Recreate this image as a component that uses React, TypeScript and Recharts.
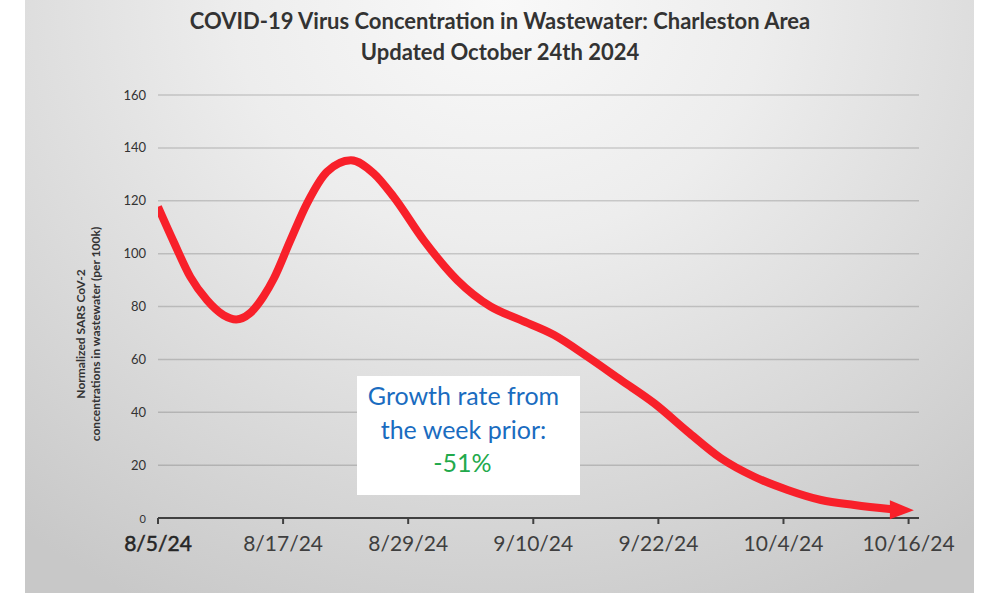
import React from "react";
import { LineChart, Line, XAxis, YAxis, CartesianGrid } from "recharts";

// Days after 8/5/24
const dayOffsets = [0, 1.5, 3.1, 4.7, 6.3, 7.5, 8.8, 10.1, 11.1, 12.7, 14.3, 16.2, 18.5, 20.7, 22.6, 25.5, 28.7, 31.9, 34.7, 38, 41.2, 44.4, 47.6, 50.8, 54, 57.2, 60.4, 63.6, 66.8, 70.4];
const concentrations = [117.7, 104.5, 91.2, 82.4, 76.7, 75.1, 77.4, 83.7, 90.5, 105, 119, 130.9, 135.3, 130.3, 121.5, 105, 90, 80, 75, 69.2, 61, 52.2, 43.4, 32.7, 22.6, 15.6, 10.6, 6.8, 4.9, 3.3];

const xTickDays = [0, 12, 24, 36, 48, 60, 72];
const xTickLabels = ["8/5/24", "8/17/24", "8/29/24", "9/10/24", "9/22/24", "10/4/24", "10/16/24"];
const yTicks = [0, 20, 40, 60, 80, 100, 120, 140, 160];

const titleLines = ["COVID-19 Virus Concentration in Wastewater: Charleston Area", "Updated October 24th 2024"];
const yLabelLines = ["Normalized SARS CoV-2", "concentrations in wastewater (per 100k)"];
const noteLines = ["Growth rate from", "the week prior:"];
const noteValue = "-51%";

const data = dayOffsets.map((d, i) => ({ day: d, value: concentrations[i] }));

const FONT = "Lato, 'Open Sans', sans-serif";
const RED = "#f8202a";

const XTick = (props: any) => {
  const { x, y, payload, index } = props;
  const i = xTickDays.indexOf(payload.value);
  return (
    <text x={x} y={y + 25} textAnchor="middle" fontFamily={FONT} fontSize={21}
      fill={index === 0 ? "#262626" : "#3f3f3f"} stroke={index === 0 ? "#262626" : "none"} strokeWidth={index === 0 ? 0.5 : 0}>
      {i >= 0 ? xTickLabels[i] : ""}
    </text>
  );
};

const YTick = (props: any) => {
  const { x, y, payload } = props;
  const isZero = payload.value === 0;
  return (
    <text x={x - 4} y={y + 4.5} textAnchor="end" fontFamily={FONT} fontSize={isZero ? 11 : 13} fill="#333333">
      {payload.value}
    </text>
  );
};

const ArrowDot = (props: any) => {
  const { cx, cy, index } = props;
  if (index !== data.length - 1) return <g key={`d${index}`} />;
  return (
    <polygon key={`d${index}`} points={`${cx - 2},${cy - 9} ${cx + 22},${cy + 1} ${cx - 2},${cy + 10}`} fill={RED} />
  );
};

export default function App() {
  return (
    <div style={{ position: "absolute", left: 0, top: 0, width: 1000, height: 593, background: "#ffffff", overflow: "hidden" }}>
      <div style={{
        position: "absolute", left: 25, top: 0, width: 949, height: 593,
        background: "radial-gradient(ellipse 80% 115% at 50% 0%, #f9f9f9 0%, #ededed 35%, #dcdcdc 65%, #c8c8c8 100%)",
      }} />
      {titleLines.map((t, i) => (
        <div key={t} style={{
          position: "absolute", left: 0, width: 1000, top: 7 + i * 31, textAlign: "center",
          fontFamily: FONT, fontWeight: 700, fontSize: 22, color: "#333333", lineHeight: "28px",
        }}>{t}</div>
      ))}
      <div style={{ position: "absolute", left: 0, top: 0 }}>
        <LineChart width={1000} height={593} data={data}
          margin={{ top: 95, right: 81, bottom: 35, left: 98 }}>
          <CartesianGrid horizontal={true} vertical={false} stroke="#000000" strokeOpacity={0.16} strokeWidth={1.5} />
          <XAxis dataKey="day" type="number" domain={[0, 73]} ticks={xTickDays} interval={0}
            axisLine={{ stroke: "#404040", strokeWidth: 2 }} tickLine={{ stroke: "#404040", strokeWidth: 2 }}
            tickSize={6} height={40} tick={<XTick />} allowDataOverflow />
          <YAxis type="number" domain={[0, 160]} ticks={yTicks} interval={0} width={60}
            axisLine={false} tickLine={false} tick={<YTick />} />
          <Line type="monotone" dataKey="value" stroke={RED} strokeWidth={8} dot={<ArrowDot />}
            activeDot={false} isAnimationActive={false} strokeLinejoin="round" />
        </LineChart>
      </div>
      <svg style={{ position: "absolute", left: 0, top: 0 }} width={120} height={593}>
        {yLabelLines.map((t, i) => (
          <text key={t} transform={`translate(${85 + i * 15}, 334) rotate(-90)`} textAnchor="middle"
            fontFamily={FONT} fontWeight={700} fontSize={12} fill="#333333">{t}</text>
        ))}
      </svg>
      <div style={{
        position: "absolute", left: 357, top: 376, width: 223, height: 119, background: "#ffffff",
        fontFamily: FONT, textAlign: "center", fontSize: 25, lineHeight: "33.5px", paddingTop: 3, boxSizing: "border-box",
      }}>
        {noteLines.map((t) => (
          <div key={t} style={{ color: "#1a6cc0", marginLeft: -10 }}>{t}</div>
        ))}
        <div style={{ color: "#22a94b", marginLeft: -12 }}>{noteValue}</div>
      </div>
    </div>
  );
}
